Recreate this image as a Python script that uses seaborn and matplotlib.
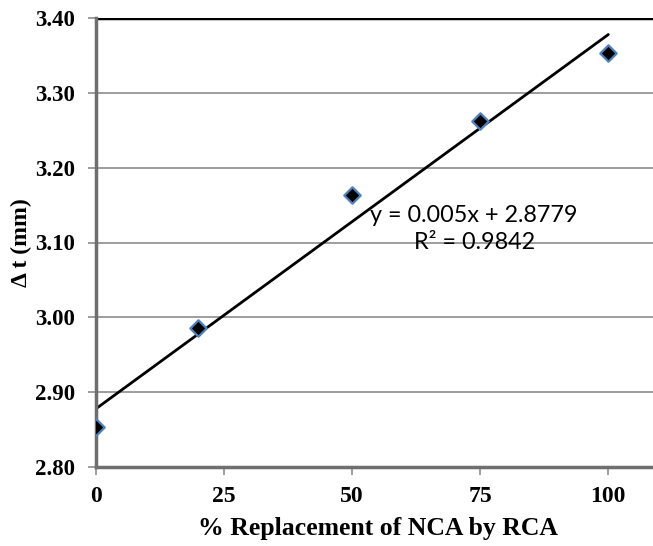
import matplotlib
matplotlib.use("Agg")
import matplotlib.pyplot as plt
import seaborn as sns
import numpy as np
import pandas as pd

replacement = [0, 20, 50, 75, 100]
delta_t = [2.853, 2.986, 3.163, 3.262, 3.353]
slope = 0.005
intercept = 2.8779
r2 = 0.9842
xticks = [0, 25, 50, 75, 100]
yticks = [2.80, 2.90, 3.00, 3.10, 3.20, 3.30, 3.40]

sns.set_theme(style="white")
plt.rcParams['font.family'] = ['Liberation Serif', 'DejaVu Serif']
plt.rcParams['text.color'] = 'black'
plt.rcParams['axes.labelcolor'] = 'black'
plt.rcParams['xtick.color'] = 'black'
plt.rcParams['ytick.color'] = 'black'

df = pd.DataFrame({"x": replacement, "y": delta_t})

fig = plt.figure(figsize=(6.53, 5.46), dpi=100)
ax = fig.add_axes([96/653, 79/546, 1 - 96/653 + 0.01, (467-18)/546])

for yv in yticks[1:-1]:
    ax.axhline(yv, color="#8c8c8c", lw=1.2, zorder=0)
ax.axhline(3.40, color="black", lw=2.5, zorder=1)

fit_x = np.array([0, 100])
sns.lineplot(x=fit_x, y=slope * fit_x + intercept, ax=ax, color="black", lw=2, zorder=2)
sns.scatterplot(data=df, x="x", y="y", ax=ax, marker="D", s=70, color="black",
                edgecolor="#4F81BD", linewidth=1.6, zorder=3)

ax.set_xlim(0, 110)
ax.set_ylim(2.80, 3.40)
ax.set_xticks(xticks)
ax.set_yticks(yticks)
ax.set_xticklabels([str(t) for t in xticks], fontweight="bold", fontsize=17)
ax.set_yticklabels([f"{t:.2f}" for t in yticks], fontweight="bold", fontsize=16.5)
ax.tick_params(axis="both", direction="out", length=6, width=1.2, color="#8c8c8c",
               labelcolor="black", bottom=True, left=True)
ax.tick_params(axis="y", pad=9)
ax.tick_params(axis="x", pad=8)

for s in ["top", "right"]:
    ax.spines[s].set_visible(False)
for s in ["left", "bottom"]:
    ax.spines[s].set_color("#6e6e6e")
    ax.spines[s].set_linewidth(2.5)

ax.set_xlabel("% Replacement of NCA by RCA", fontweight="bold", fontsize=18.5, labelpad=7)
ax.set_ylabel("Δ t (mm)", fontweight="bold", fontsize=17, labelpad=2)

ax.text(73.8, 3.118, f"y = {slope}x + {intercept}\nR² = {r2}", ha="center", va="center",
        fontsize=16.8, family=["Lato", "DejaVu Sans"], linespacing=1.3, zorder=4,
        color="black")

fig.savefig("out.png", dpi=100)
